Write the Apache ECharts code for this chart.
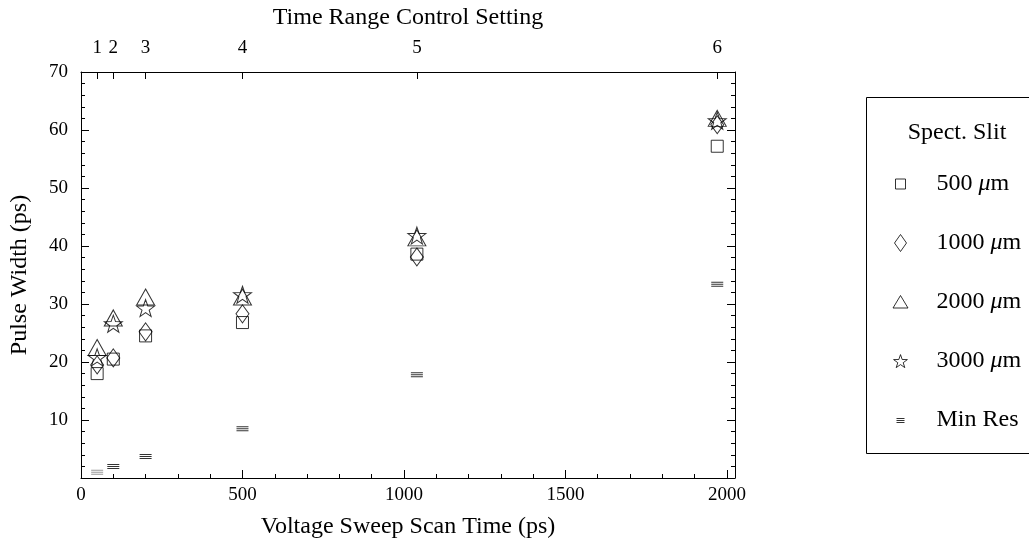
<!DOCTYPE html>
<html>
<head>
<meta charset="utf-8">
<script src="https://cdn.jsdelivr.net/npm/echarts@6/dist/echarts.min.js"></script>
<style>
html,body{margin:0;padding:0;background:#fff;}
#chart{width:1029px;height:546px;}
</style>
</head>
<body>
<div id="chart"></div>
<script>
// ---- data ----
var scanTimes = [50, 100, 200, 500, 1040, 1970];
var settingLabels = ['1', '2', '3', '4', '5', '6'];
var slit500 = [18, 20.5, 24.5, 26.8, 38.6, 57.2];
var slit1000 = [19.5, 20.7, 25.2, 28.3, 38.1, 60.9];
var slit2000 = [22.5, 27.6, 31.2, 31.2, 41.4, 62.0];
var slit3000 = [20.8, 26.6, 29.3, 31.6, 41.8, 61.6];
var minRes = [1.0, 2.0, 3.7, 8.5, 17.8, 33.4];
var xTickLabels = [0, 500, 1000, 1500, 2000];

var FONT = '"Liberation Serif", "DejaVu Serif", serif';

// symbol shapes
var SYM_SQUARE = 'path://M0,0h10v10h-10z';
var SYM_DIAMOND = 'path://M5,0L10,7L5,14L0,7Z';
var SYM_TRIANGLE = 'path://M6,0L12,10.4H0Z';
var SYM_STAR = 'path://M50,0L61.76,33.82L97.55,34.55L69.02,56.18L79.39,90.45L50,70L20.61,90.45L30.98,56.18L2.45,34.55L38.24,33.82Z';
var SYM_LINES = 'path://M0,0h12v1h-12zM0,2h12v1h-12zM0,4h12v1h-12z';

// legend icons (padded into a 20x20 box)
var LEG_SQUARE = 'path://M0,0M20,20M5,5h10v10h-10z';
var LEG_DIAMOND = 'path://M0,0M20,20M10,1.5L16,10L10,18.5L4,10Z';
var LEG_TRIANGLE = 'path://M0,0M20,20M10,3.5L17.5,16H2.5Z';
var LEG_STAR = 'path://M0,0M20,20M10,3.6L11.7,8.5L16.9,8.6L12.7,11.7L14.3,16.6L10,13.6L5.7,16.6L7.3,11.7L3.1,8.6L8.3,8.5Z';
var LEG_LINES = 'path://M0,0M20,20M6,8h8v1h-8zM6,10h8v1h-8zM6,12h8v1h-8z';

function pairs(ys) {
  return scanTimes.map(function (x, i) { return [x, ys[i]]; });
}

var openStyle = {color: 'rgba(255,255,255,0)', borderColor: '#000', borderWidth: 1};

var chart = echarts.init(document.getElementById('chart'), null, {renderer: 'canvas'});

var axisLineStyle = {color: '#000', width: 1};
var titleStyle = {fontFamily: FONT, fontSize: 24, color: '#000'};

var minResData = pairs(minRes).map(function (p, i) {
  return i === 0 ? {value: p, itemStyle: {color: '#808080'}} : p;
});

chart.setOption({
  backgroundColor: '#fff',
  animation: false,
  title: {
    text: 'Spect. Slit',
    left: 952, top: 116, textAlign: 'center',
    textStyle: {fontFamily: FONT, fontSize: 24, fontWeight: 'normal', color: '#000'}
  },
  graphic: [{
    type: 'rect',
    shape: {x: 866.5, y: 97.5, width: 200, height: 356},
    style: {fill: 'none', stroke: '#000', lineWidth: 1},
    silent: true
  }],
  legend: {
    orient: 'vertical',
    left: 890, top: 172,
    itemWidth: 20, itemHeight: 20, itemGap: 35,
    symbolKeepAspect: true,
    padding: 0,
    selectedMode: false,
    textStyle: {
      fontFamily: FONT, fontSize: 24, color: '#000',
      padding: [0, 0, 0, 21],
      rich: {i: {fontFamily: FONT, fontSize: 24, fontStyle: 'italic', color: '#000'}}
    },
    formatter: function (name) { return name.replace('μ', '{i|μ}'); },
    data: [
      {name: '500 μm', icon: LEG_SQUARE, itemStyle: openStyle},
      {name: '1000 μm', icon: LEG_DIAMOND, itemStyle: openStyle},
      {name: '2000 μm', icon: LEG_TRIANGLE, itemStyle: openStyle},
      {name: '3000 μm', icon: LEG_STAR, itemStyle: openStyle},
      {name: 'Min Res', icon: LEG_LINES, itemStyle: {color: '#000', borderWidth: 0}}
    ]
  },
  grid: {left: 81, right: 294, top: 72, bottom: 68, containLabel: false},
  xAxis: [
    {
      type: 'value', position: 'bottom', min: 0, max: 2025, interval: 500,
      axisLine: {show: true, onZero: false, lineStyle: axisLineStyle},
      axisTick: {show: true, inside: true, length: 8, lineStyle: axisLineStyle, customValues: xTickLabels},
      splitLine: {show: false},
      axisLabel: {customValues: xTickLabels, margin: 8, fontFamily: FONT, fontSize: 19, color: '#000',
        formatter: function (v) { return String(v); }},
      name: 'Voltage Sweep Scan Time (ps)', nameLocation: 'middle', nameGap: 37,
      nameTextStyle: titleStyle
    },
    {
      type: 'value', position: 'top', min: 0, max: 2025,
      axisLine: {show: true, onZero: false, lineStyle: axisLineStyle},
      axisTick: {show: true, inside: true, length: 7, lineStyle: axisLineStyle, customValues: scanTimes},
      splitLine: {show: false},
      axisLabel: {
        show: true, margin: 14, fontFamily: FONT, fontSize: 19, color: '#000',
        customValues: scanTimes,
        formatter: function (v) {
          var i = scanTimes.indexOf(v);
          return i >= 0 ? settingLabels[i] : '';
        }
      },
      name: 'Time Range Control Setting', nameLocation: 'middle', nameGap: 42,
      nameTextStyle: titleStyle
    },
    {
      type: 'value', position: 'bottom', min: 0, max: 2025, interval: 100,
      axisLine: {show: false, onZero: false},
      axisTick: {show: true, inside: true, length: 4, lineStyle: axisLineStyle},
      splitLine: {show: false},
      axisLabel: {show: false}
    }
  ],
  yAxis: [
    {
      type: 'value', position: 'left', min: 0, max: 70, interval: 10,
      axisLine: {show: true, onZero: false, lineStyle: axisLineStyle},
      axisTick: {show: true, inside: true, length: 8, lineStyle: axisLineStyle},
      minorTick: {show: true, splitNumber: 5, length: 4, lineStyle: axisLineStyle},
      splitLine: {show: false},
      axisLabel: {showMinLabel: false, margin: 13, fontFamily: FONT, fontSize: 19, color: '#000'},
      name: 'Pulse Width (ps)', nameLocation: 'middle', nameGap: 49,
      nameTextStyle: titleStyle
    },
    {
      type: 'value', position: 'right', min: 0, max: 70, interval: 10,
      axisLine: {show: true, onZero: false, lineStyle: axisLineStyle},
      axisTick: {show: true, inside: true, length: 8, lineStyle: axisLineStyle},
      minorTick: {show: true, splitNumber: 5, length: 4, lineStyle: axisLineStyle},
      splitLine: {show: false},
      axisLabel: {show: false}
    }
  ],
  series: [
    {name: '500 μm', type: 'scatter', symbol: SYM_SQUARE, symbolSize: 12, itemStyle: openStyle, data: pairs(slit500), silent: true, z: 3},
    {name: '1000 μm', type: 'scatter', symbol: SYM_DIAMOND, symbolSize: [13, 18], itemStyle: openStyle, data: pairs(slit1000), silent: true, z: 3},
    {name: '2000 μm', type: 'scatter', symbol: SYM_TRIANGLE, symbolSize: [18, 16], itemStyle: openStyle, data: pairs(slit2000), silent: true, z: 3},
    {name: '3000 μm', type: 'scatter', symbol: SYM_STAR, symbolSize: [18, 17], itemStyle: openStyle, data: pairs(slit3000), silent: true, z: 3},
    {name: 'Min Res', type: 'scatter', symbol: SYM_LINES, symbolSize: [12, 5], itemStyle: {color: '#000', borderWidth: 0}, data: minResData, silent: true, z: 3}
  ]
});
</script>
</body>
</html>
